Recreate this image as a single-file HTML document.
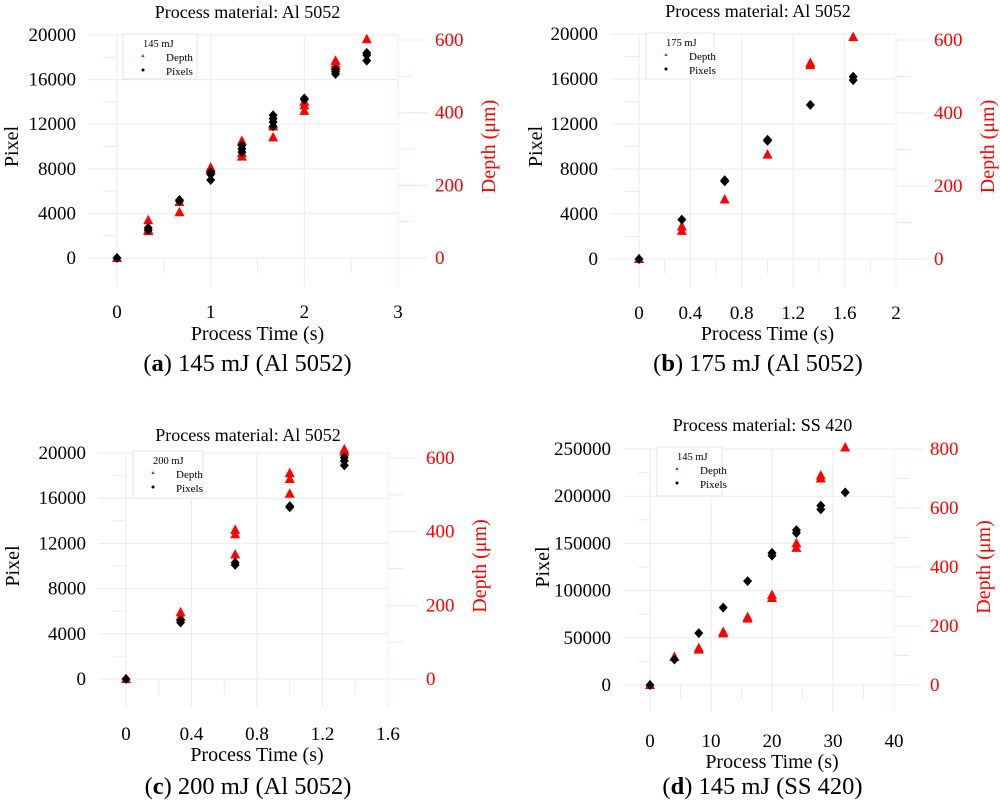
<!DOCTYPE html>
<html><head><meta charset="utf-8"><style>
body{margin:0;background:#fff;}
svg{display:block;font-family:"Liberation Serif",serif;}
</style></head><body>
<svg id="fig" width="1000" height="804" viewBox="0 0 1000 804" xmlns="http://www.w3.org/2000/svg"></svg>
<script>
// Panel a data (145 mJ Al 5052)
const aTimes=[0,1/3,2/3,1,4/3,5/3,2,7/3,8/3];
const aPixels=[[0],[2500,2700],[5100,5200],[7000,7500,7700],[9500,9800,10100],[11800,12200,12500,12800],[14200,14300],[16500,16700,16900],[17700,18200,18400]];
const aDepth=[[0],[104,74,77],[126,154],[249,243],[322,279,289],[332,362,368],[405,420,430],[543,528,534],[602]];
// Panel b data (175 mJ Al 5052)
const bTimes=[0,1/3,2/3,1,4/3,5/3];
const bPixels=[[0],[3500],[6900,7000],[10500,10600],[13700],[15900,16200]];
const bDepth=[[0],[89,77],[163],[286],[531,537],[608]];
// Panel c data (200 mJ Al 5052)
const cTimes=[0,1/3,2/3,1,4/3];
const cPixels=[[0],[5000,5200],[10100,10300],[15200,15300],[18900,19300,19600]];
const cDepth=[[0],[181,169],[405,393,338],[559,543,503],[623,617]];
// Panel d data (145 mJ SS 420)
const dTimes=[0,4,8,12,16,20,24,28,32];
const dPixels=[[0],[27000],[55000],[82000],[110000],[137000,140000],[161000,164000],[186000,190000],[204000]];
const dDepth=[[0],[95],[120,125],[175,180],[225,230],[295,305],[465,480],[700,710],[805]];
// Tick labels
const aXTicks=[0,1,2,3], bXTicks=[0,0.4,0.8,1.2,1.6,2], cXTicks=[0,0.4,0.8,1.2,1.6], dXTicks=[0,10,20,30,40];
const alY=[0,4000,8000,12000,16000,20000], dY=[0,50000,100000,150000,200000,250000];
const alD=[0,200,400,600], dD=[0,200,400,600,800];

const NS="http://www.w3.org/2000/svg";
const svg=document.getElementById('fig');
function mk(tag,attrs,parent,text){const e=document.createElementNS(NS,tag);for(const k in attrs)e.setAttribute(k,attrs[k]);if(text!==undefined)e.textContent=text;(parent||svg).appendChild(e);return e;}

const panels=[
 {id:'a',times:aTimes,pix:aPixels,dep:aDepth,xt:aXTicks,yt:alY,dt:alD,xmax:3,ymax:20000,dmax:600,
  x0:117,x1:398,y0:258,yTop:35,dTop:40,gL:88,gR:427,gB:287,leg:[123,34,74,45],legT:'145 mJ',title:'Process material: Al 5052',titleY:18,cap:' 145 mJ (Al 5052)',capL:'(a)',capY:371,xlabY:318,xtitY:340,minX:0.5,ylX:18},
 {id:'b',times:bTimes,pix:bPixels,dep:bDepth,xt:bXTicks,yt:alY,dt:alD,xmax:2,ymax:20000,dmax:600,
  x0:639,x1:896,y0:259,yTop:34,dTop:40,gL:610,gR:926,gB:288,leg:[646,33,68,46],legT:'175 mJ',title:'Process material: Al 5052',titleY:17,cap:' 175 mJ (Al 5052)',capL:'(b)',capY:371,xlabY:319,xtitY:340,minX:0.2,ylX:542},
 {id:'c',times:cTimes,pix:cPixels,dep:cDepth,xt:cXTicks,yt:alY,dt:alD,xmax:1.6,ymax:20000,dmax:600,
  x0:126,x1:388,y0:679,yTop:453,dTop:458,gL:98,gR:418,gB:708,leg:[133,451,70,47],legT:'200 mJ',title:'Process material: Al 5052',titleY:441,cap:' 200 mJ (Al 5052)',capL:'(c)',capY:794,xlabY:740,xtitY:761,minX:0.2,ylX:19},
 {id:'d',times:dTimes,pix:dPixels,dep:dDepth,xt:dXTicks,yt:dY,dt:dD,xmax:40,ymax:250000,dmax:800,
  x0:650,x1:894,y0:685,yTop:449,dTop:449,gL:623,gR:922,gB:712,leg:[657,447,65,49],legT:'145 mJ',title:'Process material: SS 420',titleY:431,cap:' 145 mJ (SS 420)',capL:'(d)',capY:794,xlabY:747,xtitY:768,minX:5,ylX:549}
];

panels.forEach(p=>{
 const g=mk('g',{});
 
 
 const X=v=>p.x0+(p.x1-p.x0)*v/p.xmax;
 const Y=v=>p.y0-(p.y0-p.yTop)*v/p.ymax;
 const D=v=>p.y0-(p.y0-p.dTop)*v/p.dmax;
 const grid='#ebebeb';
 p.yt.forEach((v,i)=>{
  mk('line',{x1:p.gL,x2:p.x1,y1:Y(v),y2:Y(v),stroke:grid,'stroke-width':1},g);
  if(i<p.yt.length-1){const m=(v+p.yt[i+1])/2;mk('line',{x1:p.gL+15,x2:X(0),y1:Y(m),y2:Y(m),stroke:grid,'stroke-width':1},g);}
  const t=mk('text',{x:p.gL-12,y:Y(v)+6,'text-anchor':'end','font-size':19,fill:'#000'},g,String(v));
  
  
 });
 p.xt.forEach((v,i)=>{
  mk('line',{x1:X(v),x2:X(v),y1:p.yTop,y2:p.gB,stroke:grid,'stroke-width':1},g);
  const t=mk('text',{x:X(v),y:p.xlabY,'text-anchor':'middle','font-size':19,fill:'#000'},g,String(v));
  
  
 });
 for(let m=p.minX;m<p.xmax;m+=p.minX*2){mk('line',{x1:X(m),x2:X(m),y1:p.y0,y2:p.y0+15,stroke:grid,'stroke-width':1},g);}
 mk('line',{x1:p.x1,x2:p.x1,y1:p.yTop,y2:p.gB,stroke:'#fde8e8','stroke-width':1},g);
 p.dt.forEach((v,i)=>{
  mk('line',{x1:p.x1,x2:p.gR,y1:D(v),y2:D(v),stroke:'#fde0e0','stroke-width':1},g);
  if(i<p.dt.length-1){const m=(v+p.dt[i+1])/2;mk('line',{x1:p.x1,x2:p.x1+15,y1:D(m),y2:D(m),stroke:'#fde0e0','stroke-width':1},g);}
  const t=mk('text',{x:p.gR+8,y:D(v)+6,'font-size':19,fill:'#ff0000'},g,String(v));
  
  
 });
 p.times.forEach((tv,i)=>{
  p.dep[i].forEach(v=>{
   const cx=X(tv),cy=D(v);
   const m=mk('polygon',{points:`${cx},${cy-5.5} ${cx-5},${cy+4} ${cx+5},${cy+4}`,fill:'#ff0000'},g);
   
   
  });
 });
 p.times.forEach((tv,i)=>{
  p.pix[i].forEach(v=>{
   const cx=X(tv),cy=Y(v);
   const m=mk('polygon',{points:`${cx},${cy-5} ${cx+4.5},${cy} ${cx},${cy+5} ${cx-4.5},${cy}`,fill:'#000'},g);
   
   
  });
 });
 const [lx,ly,lw,lh]=p.leg;
 const lg=mk('g',{},g);
 
 
 mk('rect',{x:lx,y:ly,width:lw,height:lh,fill:'#fff',stroke:'#e6e6e6','stroke-width':1},lg);
 mk('text',{x:lx+20,y:ly+13,'font-size':10.5,fill:'#000'},lg,p.legT);
 mk('polygon',{points:`${lx+20},${ly+20} ${lx+18.5},${ly+23} ${lx+21.5},${ly+23}`,fill:'#ff0000'},lg);
 mk('text',{x:lx+43,y:ly+27,'font-size':11,fill:'#000'},lg,'Depth');
 mk('circle',{cx:lx+20,cy:ly+36,r:1.5,fill:'#000'},lg);
 mk('text',{x:lx+43,y:ly+41,'font-size':11,fill:'#000'},lg,'Pixels');
 const cx=(p.gL+p.gR)/2-10;
 const tt=mk('text',{x:cx,y:p.titleY,'text-anchor':'middle','font-size':18,fill:'#000'},g,p.title);
 
 
 const xt=mk('text',{x:(X(0)+p.x1)/2,y:p.xtitY,'text-anchor':'middle','font-size':20,fill:'#000'},g,'Process Time (s)');
 
 
 const ym=(p.yTop+p.y0)/2;
 const yl=mk('text',{x:0,y:0,transform:`translate(${p.ylX},${ym}) rotate(-90)`,'text-anchor':'middle','font-size':20,fill:'#000'},g,'Pixel');
 
 
 const dl=mk('text',{x:0,y:0,transform:`translate(${p.gR+68},${ym}) rotate(-90)`,'text-anchor':'middle','font-size':20,fill:'#ff0000'},g,'Depth (μm)');
 
 
 const cap=mk('text',{x:cx,y:p.capY,'text-anchor':'middle','font-size':24.5,fill:'#000'},g);
 
 
 mk('tspan',{},cap,'(');
 mk('tspan',{'font-weight':'bold'},cap,p.capL.slice(1,2));
 mk('tspan',{},cap,')'+p.cap);
});
</script>
</body></html>
